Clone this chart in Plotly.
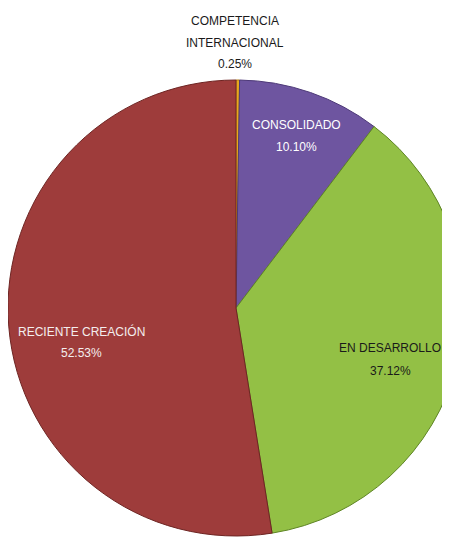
import plotly.graph_objects as go

# Data
categories = ["COMPETENCIA INTERNACIONAL", "CONSOLIDADO", "EN DESARROLLO", "RECIENTE CREACIÓN"]
shares = [0.25, 10.10, 37.12, 52.53]
share_labels = ["0.25%", "10.10%", "37.12%", "52.53%"]

slice_colors = ["#E8A81E", "#6E55A0", "#93C045", "#9E3C3B"]
edge_colors = ["#B07A10", "#4E3A78", "#5F8526", "#6E2523"]

# page body has an 8px margin; positions below are in figure pixels
OFF = 8
W, H = 462, 534
cx, cy, r = 236 - OFF, 308 - OFF, 228

fig = go.Figure(go.Pie(
    labels=categories,
    values=shares,
    sort=False,
    direction="clockwise",
    rotation=0,
    textinfo="none",
    hoverinfo="label+percent",
    marker=dict(colors=slice_colors, line=dict(color=edge_colors, width=1)),
    domain=dict(x=[max(0, (cx - r) / W), min(1, (cx + r) / W)],
                y=[max(0, (H - cy - r) / H), min(1, (H - cy + r) / H)]),
    showlegend=False,
))

# label placement (screen pixel centers) and colors
label_lines = [
    (["COMPETENCIA", "INTERNACIONAL", share_labels[0]], 235, [21, 43, 64], "#1a1a1a"),
    (["CONSOLIDADO", share_labels[1]], 296, [125, 147], "#ffffff"),
    (["EN DESARROLLO", share_labels[2]], 390, [348, 371], "#1a1a1a"),
    (["RECIENTE CREACIÓN", share_labels[3]], 81, [331, 353], "#f4eeee"),
]
annotations = []
for lines, px, pys, col in label_lines:
    for txt, py in zip(lines, pys):
        annotations.append(dict(
            text=txt, x=(px - OFF) / W, y=1 - (py - OFF) / H, xref="paper", yref="paper",
            xanchor="center", yanchor="middle", showarrow=False,
            font=dict(family="Liberation Sans, Arial, sans-serif", size=12, color=col),
        ))

fig.update_layout(
    width=W, height=H, autosize=False,
    margin=dict(l=0, r=0, t=0, b=0),
    paper_bgcolor="white", plot_bgcolor="white",
    annotations=annotations,
)

fig.write_html("out.html")
